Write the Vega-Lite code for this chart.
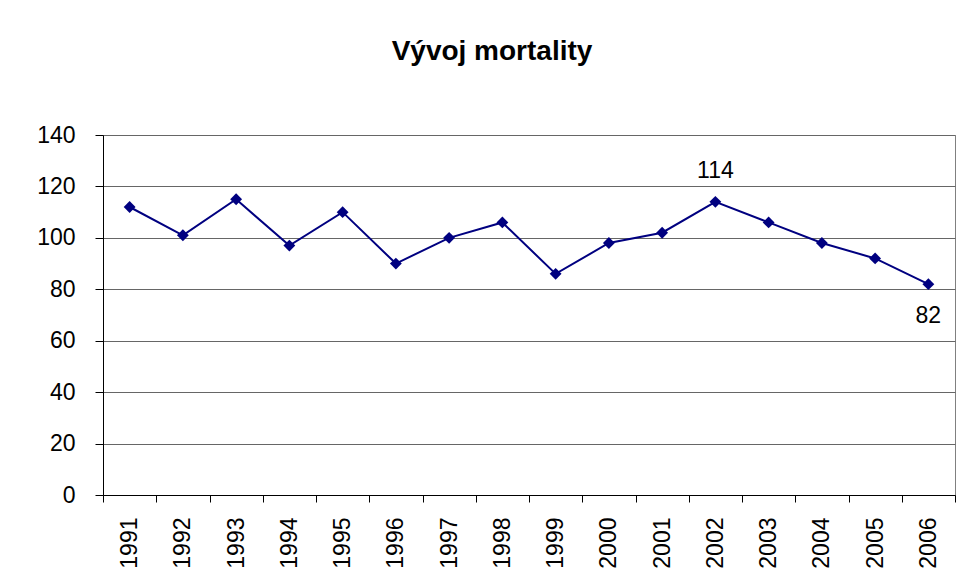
{
  "$schema": "https://vega.github.io/schema/vega-lite/v6.json",
  "width": 852,
  "height": 360,
  "autosize": {"type": "none"},
  "padding": {"left": 103, "top": 135, "right": 7, "bottom": 93},
  "background": "white",
  "title": {
    "text": "Vývoj mortality",
    "font": "Liberation Sans",
    "fontSize": 28,
    "fontWeight": "bold",
    "color": "black",
    "anchor": "middle",
    "dx": -37,
    "offset": 58
  },
  "config": {
    "view": {"stroke": "#808080", "strokeWidth": 1},
    "font": "Liberation Sans"
  },
  "data": {
    "values": [
      {"year": "1991", "value": 112, "label": ""},
      {"year": "1992", "value": 101, "label": ""},
      {"year": "1993", "value": 115, "label": ""},
      {"year": "1994", "value": 97, "label": ""},
      {"year": "1995", "value": 110, "label": ""},
      {"year": "1996", "value": 90, "label": ""},
      {"year": "1997", "value": 100, "label": ""},
      {"year": "1998", "value": 106, "label": ""},
      {"year": "1999", "value": 86, "label": ""},
      {"year": "2000", "value": 98, "label": ""},
      {"year": "2001", "value": 102, "label": ""},
      {"year": "2002", "value": 114, "label": "top"},
      {"year": "2003", "value": 106, "label": ""},
      {"year": "2004", "value": 98, "label": ""},
      {"year": "2005", "value": 92, "label": ""},
      {"year": "2006", "value": 82, "label": "bottom"}
    ]
  },
  "encoding": {
    "x": {
      "field": "year",
      "type": "ordinal",
      "scale": {"type": "band", "paddingInner": 0, "paddingOuter": 0},
      "axis": {
        "title": null,
        "labelAngle": -90,
        "labelFontSize": 23,
        "labelColor": "black",
        "labelPadding": 15,
        "labelBaseline": "middle",
        "tickBand": "extent",
        "tickSize": 7,
        "tickColor": "black",
        "domainColor": "black",
        "grid": false
      }
    },
    "y": {
      "field": "value",
      "type": "quantitative",
      "scale": {"domain": [0, 140], "nice": false, "zero": true},
      "axis": {
        "title": null,
        "values": [0, 20, 40, 60, 80, 100, 120, 140],
        "labelFontSize": 23,
        "labelColor": "black",
        "labelPadding": 20,
        "tickSize": 8,
        "tickColor": "black",
        "domainColor": "black",
        "gridColor": "#666666",
        "gridOpacity": 1
      }
    }
  },
  "layer": [
    {
      "mark": {"type": "line", "color": "#000080", "strokeWidth": 2}
    },
    {
      "mark": {"type": "point", "shape": "diamond", "filled": true, "color": "#000080", "size": 140, "opacity": 1}
    },
    {
      "transform": [{"filter": "datum.label == 'top'"}],
      "mark": {"type": "text", "fontSize": 23, "color": "black", "dy": -31, "baseline": "middle"},
      "encoding": {"text": {"field": "value", "type": "quantitative"}}
    },
    {
      "transform": [{"filter": "datum.label == 'bottom'"}],
      "mark": {"type": "text", "fontSize": 23, "color": "black", "dy": 32, "baseline": "middle"},
      "encoding": {"text": {"field": "value", "type": "quantitative"}}
    }
  ]
}
